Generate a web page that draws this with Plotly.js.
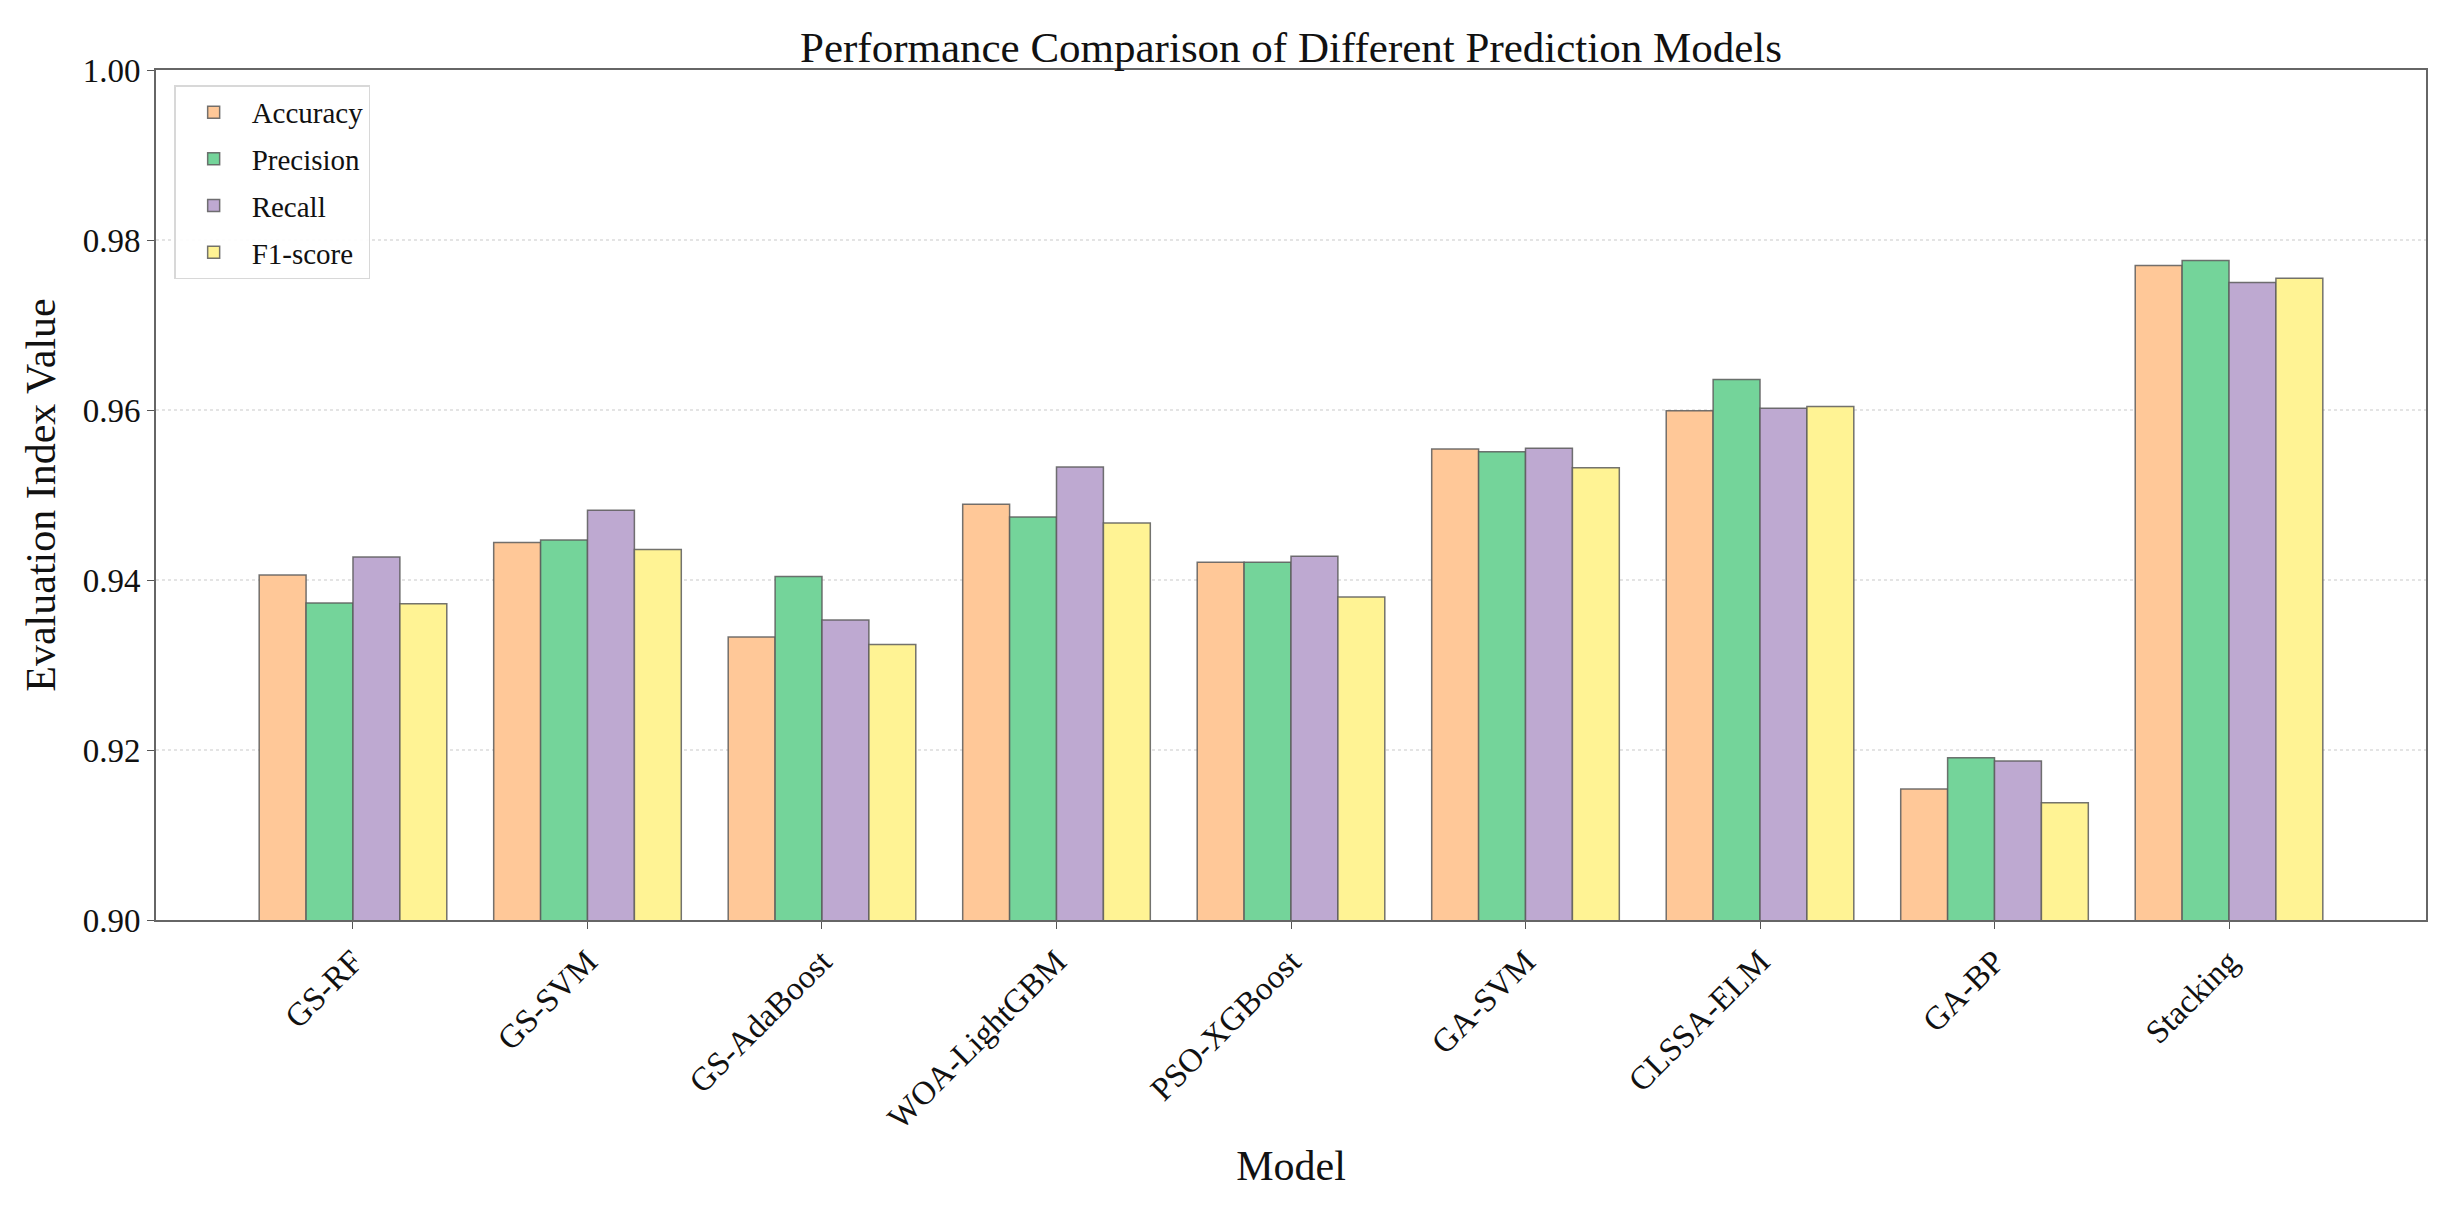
<!DOCTYPE html>
<html>
<head>
<meta charset="utf-8">
<script src="https://cdn.plot.ly/plotly-3.0.1.min.js"></script>
<style>html,body{margin:0;padding:0;background:#fff;}#chart{width:2452px;height:1209px;}</style>
</head>
<body>
<div id="chart"></div>
<script>
const models = ["GS-RF","GS-SVM","GS-AdaBoost","WOA-LightGBM","PSO-XGBoost","GA-SVM","CLSSA-ELM","GA-BP","Stacking"];
const accuracy  = [0.9406,0.9444,0.9333,0.9489,0.9421,0.9554,0.9599,0.9154,0.9770];
const precision = [0.9373,0.9447,0.9404,0.9474,0.9421,0.9551,0.9636,0.9191,0.9776];
const recall    = [0.9427,0.9482,0.9353,0.9533,0.9428,0.9555,0.9602,0.9187,0.9750];
const f1score   = [0.9372,0.9436,0.9324,0.9467,0.9380,0.9532,0.9604,0.9138,0.9755];
const seriesNames = ["Accuracy","Precision","Recall","F1-score"];
const yTicks = [0.90,0.92,0.94,0.96,0.98,1.00];
const yTickText = ["0.90","0.92","0.94","0.96","0.98","1.00"];

const colors = ["#FFC898","#74D49A","#BEA9D1","#FFF394"];
const data = [accuracy,precision,recall,f1score].map((vals,i)=>({
  type:'bar', name:seriesNames[i], x:models, y:vals, legendgroup:'g'+i,
  marker:{color:colors[i], line:{color:'rgba(90,90,90,0.85)', width:1.5}}
}));
const font = '"Liberation Serif","Times New Roman",serif';
const layout = {
  width:2452, height:1209,
  margin:{l:156, r:26, t:70, b:289},
  paper_bgcolor:'#fff', plot_bgcolor:'#fff',
  font:{family:font, color:'#111'},
  barmode:'group', bargap:0.2, bargroupgap:0,
  title:{text:'Performance Comparison of Different Prediction Models', font:{family:font,size:43,color:'#111'},
         x:0.5, xanchor:'center', xref:'paper', y:1-47/1209, yanchor:'middle', yref:'container'},
  xaxis:{
    range:[-0.84,8.84], tickangle:-45, tickfont:{family:font,size:33,color:'#111'},
    ticks:'outside', ticklen:7, tickcolor:'#555', showline:true, linecolor:'#666', linewidth:2, mirror:true,
    showgrid:false, zeroline:false, automargin:false,
    title:{text:'Model', font:{family:font,size:42,color:'#111'}, standoff:16}
  },
  yaxis:{
    range:[0.90,1.00], tickvals:yTicks, ticktext:yTickText, tickfont:{family:font,size:33,color:'#111'},
    ticks:'outside', ticklen:7, tickcolor:'#555', showline:true, linecolor:'#666', linewidth:2, mirror:true,
    showgrid:true, gridcolor:'#e4e4e4', griddash:'dot', gridwidth:1.5, zeroline:false, automargin:false,
    title:{text:'Evaluation Index Value', font:{family:font,size:42,color:'#111'}, standoff:14}
  },
  legend:{x:0.008, y:0.982, xanchor:'left', yanchor:'top', bgcolor:'rgba(255,255,255,0.9)',
          bordercolor:'#d8d8d8', borderwidth:1.5, font:{family:font,size:29,color:'#111'},
          itemwidth:66, traceorder:'grouped', tracegroupgap:6},
  showlegend:true
};
Plotly.newPlot('chart', data, layout, {displayModeBar:false, staticPlot:true});
</script>
</body>
</html>
